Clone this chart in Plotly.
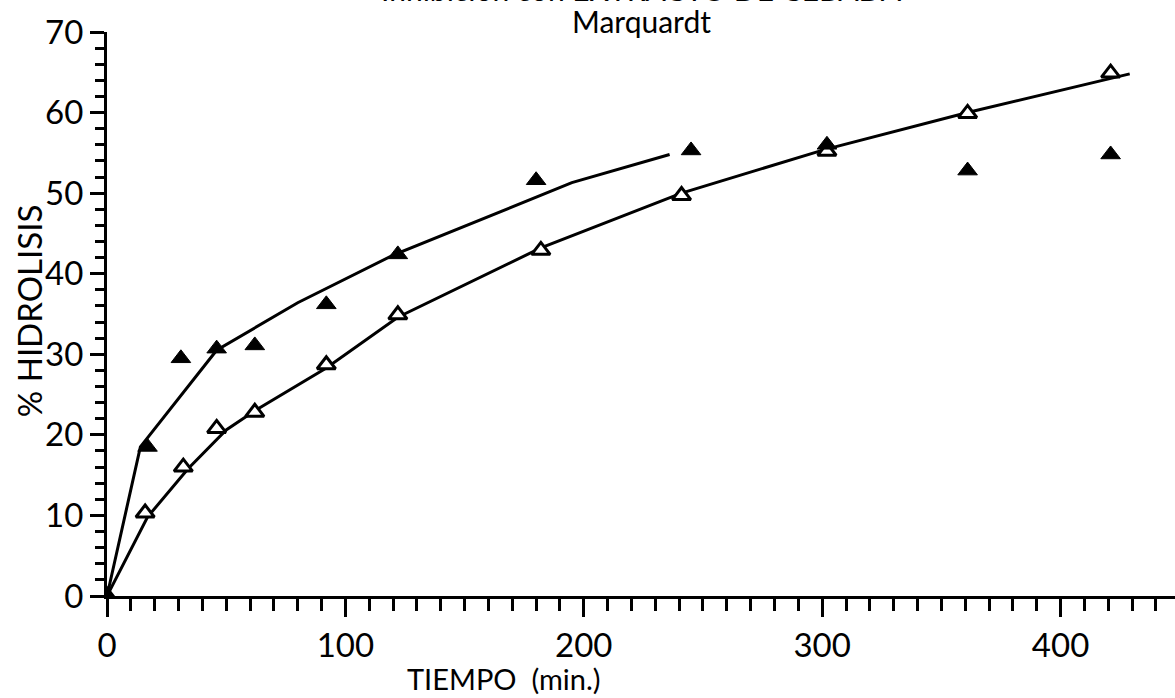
import plotly.graph_objects as go

# Data
t_filled = [0, 17, 31, 46, 62, 92, 122, 180, 245, 302, 361, 421]
h_filled = [0, 18.5, 29.5, 30.7, 31.1, 36.2, 42.4, 51.6, 55.3, 56.0, 52.8, 54.8]

t_open = [0, 16, 32, 46, 62, 92, 122, 182, 241, 302, 361, 421]
h_open = [0, 10.3, 16.0, 20.8, 22.8, 28.7, 34.9, 42.9, 49.7, 55.2, 59.9, 64.9]

# Fitted (Marquardt) curves
fit_top_t = [0, 14, 46, 80, 120, 195, 236]
fit_top_h = [0, 18.5, 30.5, 36.4, 42.3, 51.3, 54.8]

fit_low_t = [0, 17, 34, 50, 62, 92, 122, 182, 241, 301, 361, 429]
fit_low_h = [0, 9.8, 15.8, 20.6, 23.0, 28.3, 34.6, 43.2, 50.0, 55.4, 60.0, 64.8]

x_ticks = [0, 100, 200, 300, 400]
y_ticks = [0, 10, 20, 30, 40, 50, 60, 70]

FONT = "Lato"

fig = go.Figure()
fig.add_trace(go.Scatter(x=fit_top_t, y=fit_top_h, mode="lines",
                         line=dict(color="black", width=3), showlegend=False))
fig.add_trace(go.Scatter(x=fit_low_t, y=fit_low_h, mode="lines",
                         line=dict(color="black", width=3), showlegend=False))
fig.add_trace(go.Scatter(x=t_open, y=h_open, mode="markers",
                         marker=dict(symbol="triangle-up", size=16, color="white",
                                     line=dict(color="black", width=3)),
                         showlegend=False))
fig.add_trace(go.Scatter(x=t_filled, y=h_filled, mode="markers",
                         marker=dict(symbol="triangle-up", size=17, color="black",
                                     line=dict(color="black", width=1)),
                         showlegend=False))

fig.update_layout(
    width=1175, height=698,
    margin=dict(l=107, r=0, t=32, b=102),
    paper_bgcolor="white", plot_bgcolor="white",
    font=dict(family=FONT, color="black", size=32),
    xaxis=dict(range=[0, 448], tickvals=x_ticks, ticktext=[str(v) for v in x_ticks],
               showgrid=False, zeroline=False, showline=True, linecolor="black",
               linewidth=3, ticks="outside", ticklen=18, tickwidth=3, tickcolor="black",
               tickfont=dict(size=33, family=FONT),
               minor=dict(dtick=10, tick0=0, ticks="outside", ticklen=12,
                          tickwidth=3, tickcolor="black", showgrid=False)),
    yaxis=dict(range=[0, 70], tickvals=y_ticks, ticktext=[str(v) for v in y_ticks],
               showgrid=False, zeroline=False, showline=True, linecolor="black",
               linewidth=3, ticks="outside", ticklen=14, tickwidth=3, tickcolor="black",
               tickfont=dict(size=33, family=FONT),
               minor=dict(dtick=2, tick0=0, ticks="outside", ticklen=9,
                          tickwidth=3, tickcolor="black", showgrid=False)),
    annotations=[
        dict(text="TIEMPO  (min.)", x=0.372, y=-0.147, xref="paper", yref="paper",
             xanchor="center", yanchor="middle", showarrow=False,
             font=dict(size=29, family=FONT)),
        dict(text="% HIDROLISIS", x=-0.073, y=0.505, xref="paper", yref="paper",
             xanchor="center", yanchor="middle", textangle=-90, showarrow=False,
             font=dict(size=33, family=FONT)),
        dict(text="Marquardt", x=0.5, y=1.019, xref="paper", yref="paper",
             xanchor="center", yanchor="middle", showarrow=False,
             font=dict(size=30, family=FONT)),
        dict(text="Inhibición con EXTRACTO DE CEBADA", x=0.5, y=1.04, xref="paper", yref="paper",
             xanchor="center", yanchor="bottom", showarrow=False,
             font=dict(size=30, family=FONT)),
    ],
)

fig.write_html("out.html")
